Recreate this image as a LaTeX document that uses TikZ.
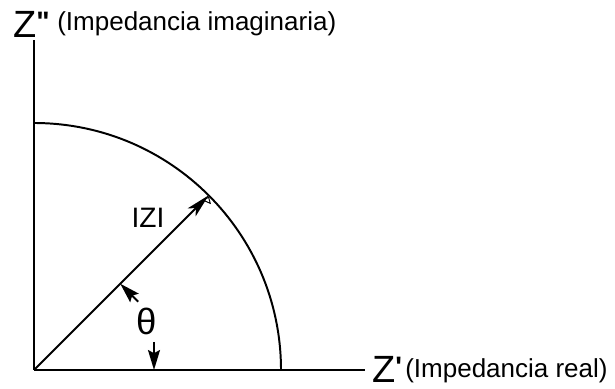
\documentclass[tikz,border=0pt]{standalone}
\usepackage{fontspec}
\setmainfont{Liberation Sans}
\newfontfamily\zfont{Liberation Sans}
\usetikzlibrary{arrows.meta,positioning,calc}

\begin{document}
\begin{tikzpicture}[
  axis/.style={line width=1.4pt},
  arr/.style={-{Stealth[length=6mm,width=2.8mm,inset=1.5mm]},line width=1.4pt},
  dim/.style={-{Stealth[length=5mm,width=3mm,inset=0.8mm]},line width=1.3pt},
  bigz/.style={font=\zfont\fontsize{27}{27}\selectfont,inner sep=0pt,anchor=base west},
  lbl/.style={font=\fontsize{18.5}{18.5}\selectfont,inner sep=0pt,anchor=base west}
]
  \useasboundingbox (-0.85,-0.475) rectangle (14.525,9.25);
  % Axes
  \coordinate (O) at (0,0);
  \coordinate (ytop) at (0,8.25);
  \coordinate (xend) at (8.275,0);
  \draw[axis] (O) -- (ytop);
  \draw[axis] (O) -- (xend);
  % Axis labels
  \node[bigz] (zim) at (-0.525,8.3)
    {Z\raisebox{4.5pt}{\fontsize{20}{20}\selectfont\textbf{"}}};
  \node[lbl] (imlbl) at (0.575,8.475) {(Impedancia imaginaria)};
  \node[bigz] (zre) at (8.45,-0.325)
    {Z\raisebox{4.5pt}{\fontsize{20}{20}\selectfont\textbf{'}}};
  \node[lbl] (relbl) at (9.275,-0.2) {(Impedancia real)};
  % Arc
  \coordinate (arcx) at (6.175,0);
  \draw[axis] (arcx) arc[start angle=0,end angle=90,radius=6.175];
  % Modulus
  \coordinate (tip) at (45:6.175);
  \draw[arr] (O) -- (tip);
  \draw[line width=0.7pt] ($(tip)+(-0.14,-0.12)$) -- ($(tip)+(0.04,-0.2)$)
    -- ($(tip)+(0,-0.05)$) -- cycle;
  \node[font=\fontsize{20}{20}\selectfont] (mod) at (2.85,3.8) {IZI};
  % Angle
  \coordinate (a1) at (45:3.05);
  \coordinate (t1) at ($(a1)+(0.45,-0.45)$);
  \coordinate (a2) at (3.0,0);
  \coordinate (t2) at (3.0,0.7);
  \draw[dim] (t1) -- (a1);
  \draw[dim] (t2) -- (a2);
  \node[font=\fontsize{26}{26}\selectfont] (th) at (2.81,1.21) {θ};
\end{tikzpicture}
\end{document}
